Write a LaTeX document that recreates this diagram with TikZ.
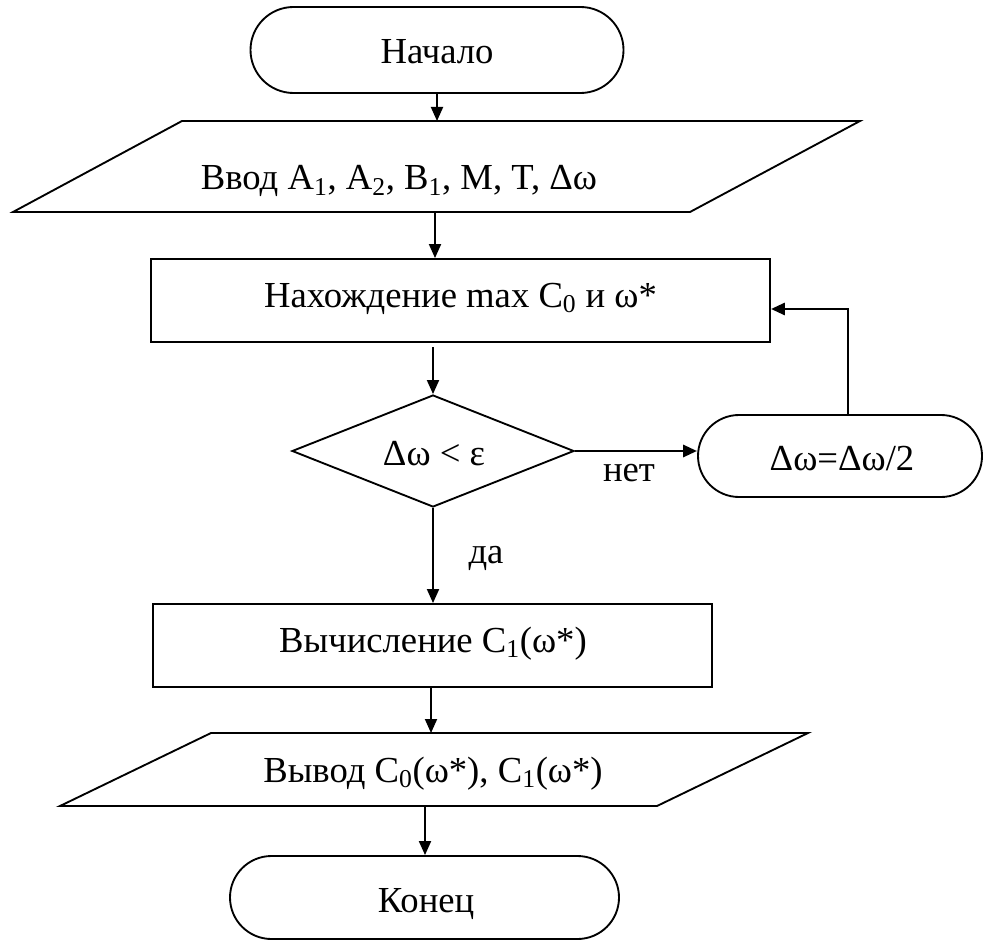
\documentclass[tikz,border=0pt]{standalone}
\usepackage{fontspec}
\setmainfont{Liberation Serif}
\usetikzlibrary{arrows.meta,shapes.geometric,shapes.misc}
\begin{document}
\begin{tikzpicture}[x=0.75pt,y=-0.75pt,
  txt/.style={font=\fontsize{27.5}{33}\selectfont, inner sep=0pt},
  shp/.style={draw, line width=1.4pt, inner sep=0pt},
  boxnode/.style={shp, rectangle},
  termnode/.style={shp, rounded rectangle},
  decnode/.style={shp, diamond},
  arr/.style={-{Triangle[length=10.5pt,width=9pt]}, line width=1.4pt},
  arrthick/.style={-{Triangle[length=10.5pt,width=9pt]}, line width=2.2pt},
  thinline/.style={line width=1.4pt}]
\useasboundingbox (0,0) rectangle (984,941);

% shapes
\node[termnode, minimum width=279.75pt, minimum height=64.5pt] (start) at (437,50) {};
\node[txt, anchor=base] (starttxt) at (437,64) {Начало};

\draw[thinline] (13,212) coordinate (p1bl) -- (182,121) -- (860,121) -- (690,212) -- cycle;
\coordinate (p1t) at (437,121);
\coordinate (p1b) at (435,212);
\node[txt, anchor=base] (intxt) at (399,190) {Ввод A\textsubscript{1}, A\textsubscript{2}, B\textsubscript{1}, M, T, Δω};

\node[boxnode, minimum width=464.25pt, minimum height=62.25pt] (find) at (460.5,300.5) {};
\node[txt, anchor=base] (findtxt) at (460.5,307) {Нахождение max C\textsubscript{0} и ω*};

\node[decnode, minimum width=211.5pt, minimum height=84pt, aspect=2.52] (dec) at (433,451) {};
\node[txt, anchor=base] (dectxt) at (434,465) {Δω < ε};

\node[termnode, minimum width=213pt, minimum height=61.5pt] (half) at (840,456) {};
\node[txt, anchor=base] (halftxt) at (842,470) {Δω=Δω/2};

\node[boxnode, minimum width=419.25pt, minimum height=62.25pt] (calc) at (432.5,645.5) {};
\node[txt, anchor=base] (calctxt) at (433,652) {Вычисление C\textsubscript{1}(ω*)};

\draw[thinline] (60,806) -- (211,733) -- (808,733) -- (657,806) -- cycle;
\coordinate (p2t) at (431,733);
\coordinate (p2b) at (425,806);
\node[txt, anchor=base] (outtxt) at (433,782) {Вывод C\textsubscript{0}(ω*), C\textsubscript{1}(ω*)};

\node[termnode, minimum width=291.75pt, minimum height=62.25pt] (stop) at (424.5,897.5) {};
\node[txt, anchor=base] (stoptxt) at (426,912) {Конец};

% connectors
\draw[arr] (start.south) -- (p1t);
\draw[arr] (p1b) -- (p1b |- find.north);
\coordinate (fs) at (433,347);
\draw[arr] (fs) -- (dec.north);
\draw[arrthick] (dec.east) -- (dec.east -| half.west);
\coordinate (lx) at (848,309);
\draw[thinline] (lx |- half.north) -- (lx);
\draw[arrthick] ([xshift=0.7pt]lx) -- (lx -| find.east);
\draw[arr] (dec.south) -- (dec.south |- calc.north);
\draw[arr] (calc.south -| p2t) -- (p2t);
\draw[arr] (p2b) -- (p2b |- stop.north);

% labels
\node[txt, anchor=base] (no) at (629,481) {нет};
\node[txt, anchor=base] (yes) at (486,563) {да};
\end{tikzpicture}
\end{document}
